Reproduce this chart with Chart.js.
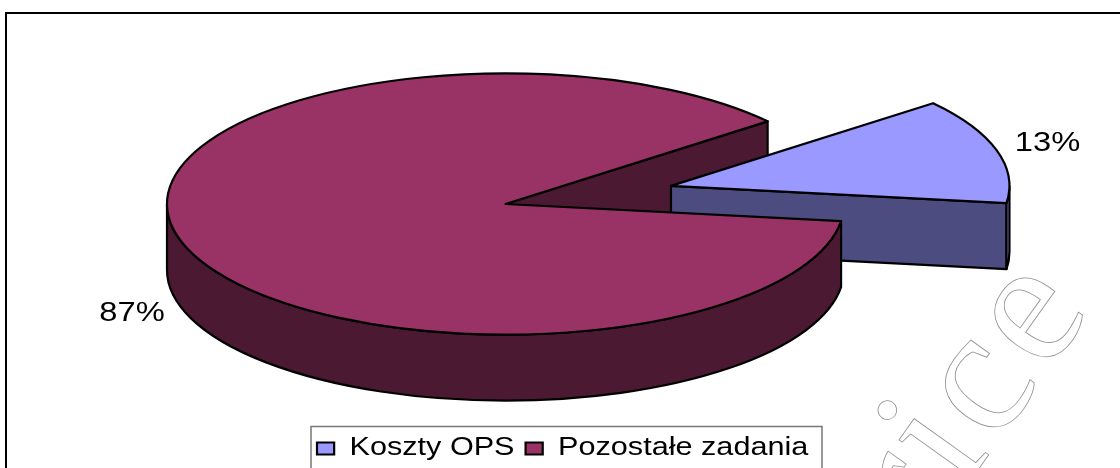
<!DOCTYPE html>
<html><head><meta charset="utf-8">
<style>html,body{margin:0;padding:0;background:#fff;overflow:hidden}canvas{display:block}</style>
<script src="https://cdn.jsdelivr.net/npm/chart.js@4"></script></head>
<body><canvas id="c" width="1120" height="468"></canvas>
<script>
const categories = ['Koszty OPS', 'Pozostałe zadania'];
const shares = [13, 87];
const topColors = ['#9999FF', '#993366'];
const wallColors = ['#4C4C80', '#4C1933'];
const rimSliverColor = '#8C8CEB';
const watermarkWord = 'rice';

const view = {cx: 505.5, cy: 204, k: 0.386, depth: 66, radius: 338.5, explode: 172, explodedIndex: 0, line: 2.2};
const labelAnchors = [[1047.5, 143.5], [132, 314]];
const legendStretch = 1.225, legendLeft = 317, legendDrop = 3;

function pieParts(chart) {
  const arcs = chart.getDatasetMeta(0).data;
  return arcs.map((arc, i) => {
    const ex = i === view.explodedIndex ? view.explode : 0;
    const mid = (arc.startAngle + arc.endAngle) / 2;
    return {
      arc, i,
      ox: view.cx + Math.cos(mid) * ex,
      oy: view.cy + Math.sin(mid) * ex * view.k,
      r: arc.outerRadius, a0: arc.startAngle, a1: arc.endAngle
    };
  });
}
function strokeFill(ctx, fill) {
  ctx.fillStyle = fill; ctx.fill();
  ctx.strokeStyle = '#000'; ctx.lineWidth = view.line; ctx.lineJoin = 'round'; ctx.stroke();
}
function rimPoint(p, a) { return [p.ox + p.r * Math.cos(a), p.oy + p.r * view.k * Math.sin(a)]; }

function cutWall(ctx, p, a, fill) {
  const [x, y] = rimPoint(p, a);
  ctx.beginPath();
  ctx.moveTo(p.ox, p.oy); ctx.lineTo(x, y);
  ctx.lineTo(x, y + view.depth); ctx.lineTo(p.ox, p.oy + view.depth);
  ctx.closePath(); strokeFill(ctx, fill);
}
function outerWall(ctx, p, a0, a1, fill) {
  ctx.beginPath();
  ctx.ellipse(p.ox, p.oy, p.r, p.r * view.k, 0, a0, a1, false);
  ctx.ellipse(p.ox, p.oy + view.depth, p.r, p.r * view.k, 0, a1, a0, true);
  ctx.closePath(); strokeFill(ctx, fill);
}
function topFace(ctx, p) {
  ctx.save();
  ctx.translate(p.ox, p.oy); ctx.scale(1, view.k); ctx.translate(-p.arc.x, -p.arc.y);
  p.arc.draw(ctx);
  ctx.restore();
  ctx.beginPath();
  ctx.moveTo(p.ox, p.oy);
  ctx.ellipse(p.ox, p.oy, p.r, p.r * view.k, 0, p.a0, p.a1, false);
  ctx.closePath();
  ctx.strokeStyle = '#000'; ctx.lineWidth = view.line; ctx.lineJoin = 'round'; ctx.stroke();
}

const frameAndPie = {
  id: 'frameAndPie',
  afterLayout(chart) {
    // the reference's text is stretched sideways: widen the library's own legend the same way
    const legend = chart.legend;
    if (legend._stretched) return;
    legend._stretched = true;
    const draw = legend.draw;
    legend.draw = function () {
      const ctx = chart.ctx, lx = legend.legendHitBoxes[0].left;
      ctx.save();
      ctx.translate(legendLeft, legendDrop); ctx.scale(legendStretch, 1); ctx.translate(-lx, 0);
      draw.call(legend);
      ctx.restore();
    };
  },
  beforeDraw(chart) {
    const ctx = chart.ctx;
    ctx.save();
    ctx.fillStyle = '#fff'; ctx.fillRect(0, 0, chart.width, chart.height);
    ctx.strokeStyle = '#000'; ctx.lineWidth = 2;
    ctx.beginPath(); ctx.moveTo(6, 468); ctx.lineTo(6, 13); ctx.lineTo(1120, 13); ctx.stroke();
    // watermark
    ctx.translate(923, 547); ctx.rotate(-54.5 * Math.PI / 180);
    ctx.font = '178px "Liberation Serif"'; ctx.textAlign = 'left'; ctx.textBaseline = 'alphabetic';
    ctx.letterSpacing = '8px';
    ctx.strokeStyle = '#909090'; ctx.lineWidth = 0.8;
    ctx.strokeText(watermarkWord, 0, 0);
    ctx.letterSpacing = '0px';
    ctx.restore();
    // legend box
    ctx.save();
    ctx.fillStyle = '#fff'; ctx.strokeStyle = '#777'; ctx.lineWidth = 1.5;
    ctx.fillRect(311, 426.5, 511, 60); ctx.strokeRect(311, 426.5, 511, 60);
    ctx.restore();
  },
  beforeDatasetsDraw(chart) {
    const ctx = chart.ctx;
    const [blue, big] = pieParts(chart);
    ctx.save();
    cutWall(ctx, big, big.a1, wallColors[big.i]);
    cutWall(ctx, blue, blue.a1, wallColors[blue.i]);
    outerWall(ctx, blue, 0, blue.a1, rimSliverColor);
    topFace(ctx, blue);
    outerWall(ctx, big, big.a0, Math.PI, wallColors[big.i]);
    topFace(ctx, big);
    ctx.fillStyle = '#000'; ctx.textAlign = 'center'; ctx.textBaseline = 'middle';
    ctx.font = '27px "Liberation Sans"';
    shares.forEach((v, i) => {
      ctx.save();
      ctx.translate(labelAnchors[i][0], labelAnchors[i][1]); ctx.scale(1.21, 1);
      ctx.fillText(v + '%', 0, 0);
      ctx.restore();
    });
    ctx.restore();
    return false;
  }
};

new Chart(document.getElementById('c'), {
  type: 'pie',
  data: { labels: categories, datasets: [{ data: shares, backgroundColor: topColors, borderWidth: 0, radius: view.radius, rotation: 50.75 }] },
  plugins: [frameAndPie],
  options: {
    responsive: false, animation: false, events: [],
    plugins: {
      tooltip: { enabled: false },
      legend: { position: 'bottom', labels: {
        color: '#000', font: { family: '"Liberation Sans"', size: 25 },
        boxWidth: 14, boxHeight: 12, padding: 9,
        generateLabels(chart) {
          return Chart.overrides.pie.plugins.legend.labels.generateLabels(chart)
            .map(item => ({ ...item, strokeStyle: '#000', lineWidth: 1.8 }));
        }
      }}
    }
  }
});
</script></body></html>
